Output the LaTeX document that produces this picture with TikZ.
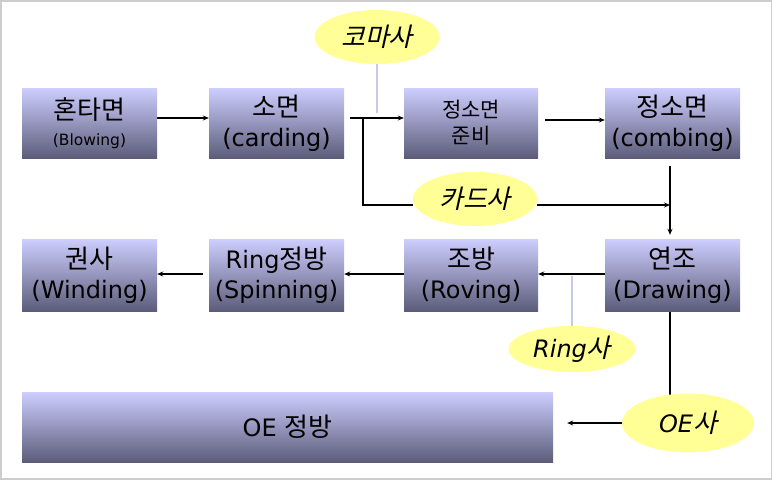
\documentclass[tikz,border=0pt]{standalone}
\usepackage{fontspec}
\setmainfont{DejaVu Sans}
\newfontfamily\krf{Noto Sans CJK KR}
\newfontfamily\kritf[FakeSlant=0.22]{Noto Sans CJK KR}
\newcommand{\kr}[1]{{\fontsize{26}{30}\selectfont\krf #1}}
\newcommand{\krit}[1]{{\fontsize{26}{30}\selectfont\kritf #1}}
\usetikzlibrary{arrows.meta,shapes.geometric,backgrounds}
\definecolor{boxtop}{RGB}{206,206,255}
\definecolor{boxmid}{RGB}{168,168,220}
\definecolor{boxbot}{RGB}{92,92,122}
\definecolor{elfill}{RGB}{255,255,150}
\definecolor{lav}{RGB}{200,200,232}
\definecolor{frame}{RGB}{205,205,205}
\tikzset{
  procbox/.style={rectangle, minimum width=135pt, minimum height=70pt, inner sep=0pt,
    top color=boxtop, middle color=boxmid, bottom color=boxbot, align=center,
    font=\fontsize{24}{30}\selectfont},
  yarn/.style={ellipse, fill=elfill, inner sep=0pt, font=\fontsize{24}{28}\selectfont\itshape},
  arr/.style={line width=1.8pt, -{Stealth[length=6pt,width=5pt]}},
  plain/.style={line width=1.8pt},
  lavline/.style={line width=2pt, lav},
}
\begin{document}
\begin{tikzpicture}[x=1pt,y=-1pt]
\useasboundingbox (0,0) rectangle (773,482);
\draw[frame, line width=1.5pt] (1,1) rectangle (771.5,479);
% row 1
\node[procbox] (b1) at (89.5,123) {\kr{혼타면}\\[-4pt]{\fontsize{15.5}{18}\selectfont (Blowing)}};
\node[procbox] (b2) at (276.5,123) {\kr{소면}\\(carding)};
\node[procbox, minimum width=134pt, font=\fontsize{21}{26}\selectfont\krf] (b3) at (471,123) {정소면\\준비};
\node[procbox] (b4) at (672.5,123) {\kr{정소면}\\(combing)};
% row 2
\node[procbox, minimum height=72pt] (c1) at (89.5,275) {\kr{권사}\\(Winding)};
\node[procbox, minimum height=72pt] (c2) at (276.5,275) {Ring\kr{정방}\\(Spinning)};
\node[procbox, minimum height=72pt, minimum width=134pt] (c3) at (471,275) {\kr{조방}\\(Roving)};
\node[procbox, minimum height=72pt] (c4) at (672.5,275) {\kr{연조}\\(Drawing)};
% row 3
\node[procbox, minimum width=531pt] (ob) at (287.5,427) {OE \kr{정방}};
% ellipses
\node[yarn, minimum width=125pt, minimum height=54pt] (ek) at (377,37) {\krit{코마사}};
\node[yarn, minimum width=124pt, minimum height=54pt] (ec) at (475,199) {\krit{카드사}};
\node[yarn, minimum width=127pt, minimum height=46pt] (er) at (572,349) {Ring\krit{사}};
\node[yarn, minimum width=132pt, minimum height=59pt] (eo) at (688,423) {OE\krit{사}};
% connectors
\begin{scope}[on background layer]
\coordinate (split) at (363,118);
\draw[arr] (b1.east |- split) -- (b2.west |- split);
\draw[plain] ([xshift=6pt]b2.east |- split) -- (split);
\draw[arr] (split) -- (b3.west |- split);
\draw[plain] (split) -- (split |- 0,205) -- (ec.west |- 0,205);
\coordinate (drop) at (670,205);
\draw[arr] (ec.east |- drop) -- (drop);
\draw[arr, shorten <=7pt] (b3.east |- 0,120) -- (b4.west |- 0,120);
\draw[arr, shorten <=8pt, shorten >=4pt] (b4.south -| drop) -- (c4.north -| drop);
\draw[lavline] (ek.south) -- (377,113);
\coordinate (r2) at (0,274);
\draw[arr] (c4.west |- r2) -- (c3.east |- r2);
\draw[arr] (c3.west |- r2) -- (c2.east |- r2);
\draw[arr, shorten <=6pt] (c2.west |- r2) -- (c1.east |- r2);
\draw[lavline] (572,276) -- (er.north);
\draw[plain] (c4.south -| drop) -- (drop |- eo.center);
\draw[arr, shorten >=14pt] (eo.west) -- (ob.east |- eo.west);
\end{scope}
\end{tikzpicture}
\end{document}
